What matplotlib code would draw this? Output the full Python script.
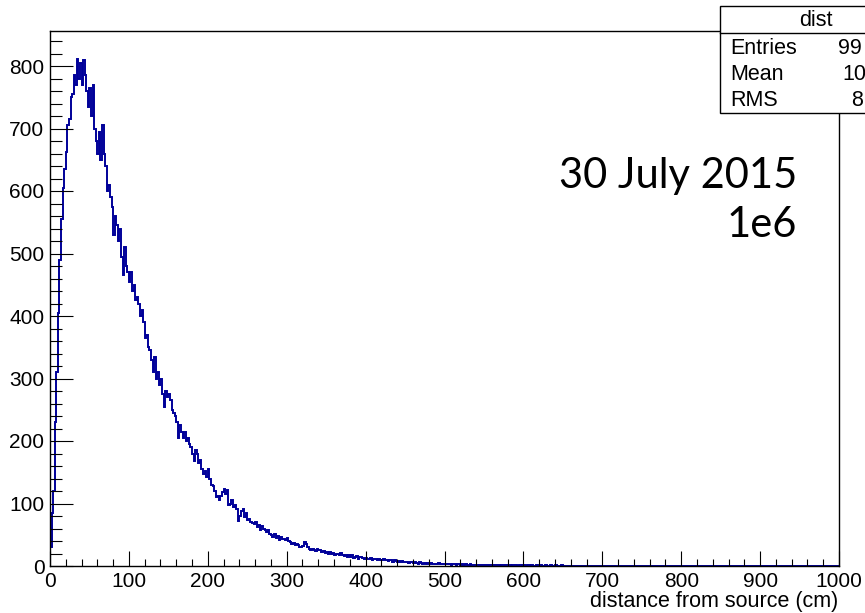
import matplotlib
matplotlib.use("Agg")
import matplotlib.pyplot as plt
from matplotlib.patches import Rectangle
from matplotlib.lines import Line2D
from matplotlib.ticker import MultipleLocator
import numpy as np

bin_width = 2
counts = [
    30, 85, 120, 230, 310, 405, 490, 555, 605, 635,
    662, 705, 715, 750, 755, 785, 770, 812, 780, 805,
    770, 810, 785, 760, 735, 765, 720, 770, 700, 680,
    660, 695, 650, 705, 660, 640, 600, 610, 590, 575,
    530, 560, 545, 520, 540, 495, 465, 510, 480, 470,
    455, 470, 440, 450, 425, 430, 420, 400, 410, 390,
    365, 370, 350, 345, 330, 310, 335, 300, 310, 290,
    300, 275, 255, 280, 270, 275, 265, 250, 245, 240,
    230, 205, 225, 215, 205, 215, 200, 205, 195, 190,
    180, 168, 185, 180, 165, 170, 155, 148, 152, 143,
    155, 140, 130, 128, 120, 110, 112, 105, 112, 118,
    124, 115, 122, 97, 100, 105, 95, 98, 92, 72,
    80, 88, 92, 78, 85, 74, 76, 70, 69, 67,
    70, 62, 66, 58, 64, 60, 57, 55, 58, 52,
    50, 47, 52, 45, 48, 42, 47, 44, 43, 42,
    45, 40, 38, 36, 37, 33, 36, 34, 31, 30,
    32, 38, 35, 31, 27, 25, 28, 26, 24, 27,
    25, 26, 23, 24, 21, 23, 20, 22, 19, 21,
    18, 20, 19, 17, 21, 18, 16, 18, 15, 17,
    14, 17, 13, 15, 16, 12, 14, 15, 13, 12,
    13, 11, 12, 13, 10, 11, 12, 10, 11, 9,
    10, 11, 9, 10, 8, 10, 9, 7, 9, 8,
    7, 8, 6, 8, 7, 6, 7, 5, 6, 6,
    5, 6, 5, 4, 6, 5, 4, 5, 4, 5,
    4, 5, 3, 4, 4, 3, 5, 4, 3, 4,
    3, 4, 3, 3, 2, 4, 3, 2, 3, 3,
    2, 3, 2, 3, 2, 2, 3, 2, 1, 2,
    2, 1, 2, 2, 1, 2, 1, 1, 2, 1,
    1, 2, 1, 1, 1, 0, 1, 2, 1, 1,
    1, 1, 0, 1, 1, 1, 0, 1, 1, 0,
    1, 0, 1, 1, 0, 1, 0, 0, 1, 0,
    0, 1, 0, 0, 1, 0, 0, 1, 0, 0,
    1, 0, 0, 0, 1, 0, 0, 0, 0, 0,
]
x_range = (0, 1000)
hist_title = "dist"
stat_names = ["Entries", "Mean", "RMS"]
stat_visible = ["99", "10", "8"]
x_label = "distance from source (cm)"
annot_lines = ["30 July 2015", "1e6"]

W, H = 865, 613
fig = plt.figure(figsize=(W / 100, H / 100), dpi=100)
fig.patch.set_facecolor("white")

def fx(px):
    return px / W

def fy(py):
    return 1 - py / H

ax_l, ax_r, ax_t, ax_b = 50, 839, 31, 566
ax = fig.add_axes([fx(ax_l), fy(ax_b), fx(ax_r - ax_l), (ax_b - ax_t) / H])

vals = np.array(counts + [0] * ((x_range[1] - len(counts) * bin_width) // bin_width), dtype=float)
edges = np.arange(0, len(vals) + 1) * bin_width
ax.stairs(vals, edges, color="#000099", lw=1.4)

ax.set_xlim(*x_range)
ax.set_ylim(0, 856)

for s in ["top", "right", "left", "bottom"]:
    ax.spines[s].set_linewidth(1.0)
    ax.spines[s].set_color("black")

ax.xaxis.set_major_locator(MultipleLocator(100))
ax.xaxis.set_minor_locator(MultipleLocator(20))
ax.yaxis.set_major_locator(MultipleLocator(100))
ax.yaxis.set_minor_locator(MultipleLocator(20))

tick_font = "Liberation Sans"
ax.tick_params(axis="x", which="major", direction="in", length=10.8, width=0.8, pad=4.5,
               labelsize=15)
ax.tick_params(axis="x", which="minor", direction="in", length=5.4, width=0.8)
ax.tick_params(axis="y", which="major", direction="in", length=16.6, width=0.8, pad=4,
               labelsize=15)
ax.tick_params(axis="y", which="minor", direction="in", length=8.6, width=0.8)
for lab in ax.get_xticklabels() + ax.get_yticklabels():
    lab.set_family(tick_font)

# x-axis title (right aligned, like ROOT)
fig.text(fx(838), fy(607), x_label, ha="right", va="baseline", fontsize=15.5,
         family=tick_font)

# annotation text
ann_font = "Lato"
ax_text_kw = dict(ha="right", va="baseline", fontsize=30, family=ann_font, color="black",
                  transform=fig.transFigure)
fig.text(fx(797), fy(188), annot_lines[0], **ax_text_kw)
fig.text(fx(797), fy(237), annot_lines[1], **ax_text_kw)

# stats box
box_l, box_t, box_b, box_sep = 720, 6, 113, 33
rect = Rectangle((fx(box_l), fy(box_b)), fx(W + 60 - box_l), (box_b - box_t) / H,
                 transform=fig.transFigure, facecolor="white", edgecolor="black",
                 lw=1.0, zorder=10, clip_on=False)
fig.add_artist(rect)
fig.add_artist(Line2D([fx(box_l), 1.1], [fy(box_sep), fy(box_sep)], transform=fig.transFigure,
                      color="black", lw=1.0, zorder=11))
fig.text(fx(816), fy(20), hist_title, ha="center", va="center", fontsize=15.5,
         family=tick_font, zorder=12)
rows_y = [49, 75, 101]
val_x = [838, 842, 851]
for name, v, yy, vx in zip(stat_names, stat_visible, rows_y, val_x):
    fig.text(fx(730), fy(yy), name, ha="left", va="center", fontsize=15.5,
             family=tick_font, zorder=12)
    fig.text(fx(vx), fy(yy), v, ha="left", va="center", fontsize=15.5,
             family=tick_font, zorder=12)

fig.savefig("out.png", dpi=100, facecolor="white")
